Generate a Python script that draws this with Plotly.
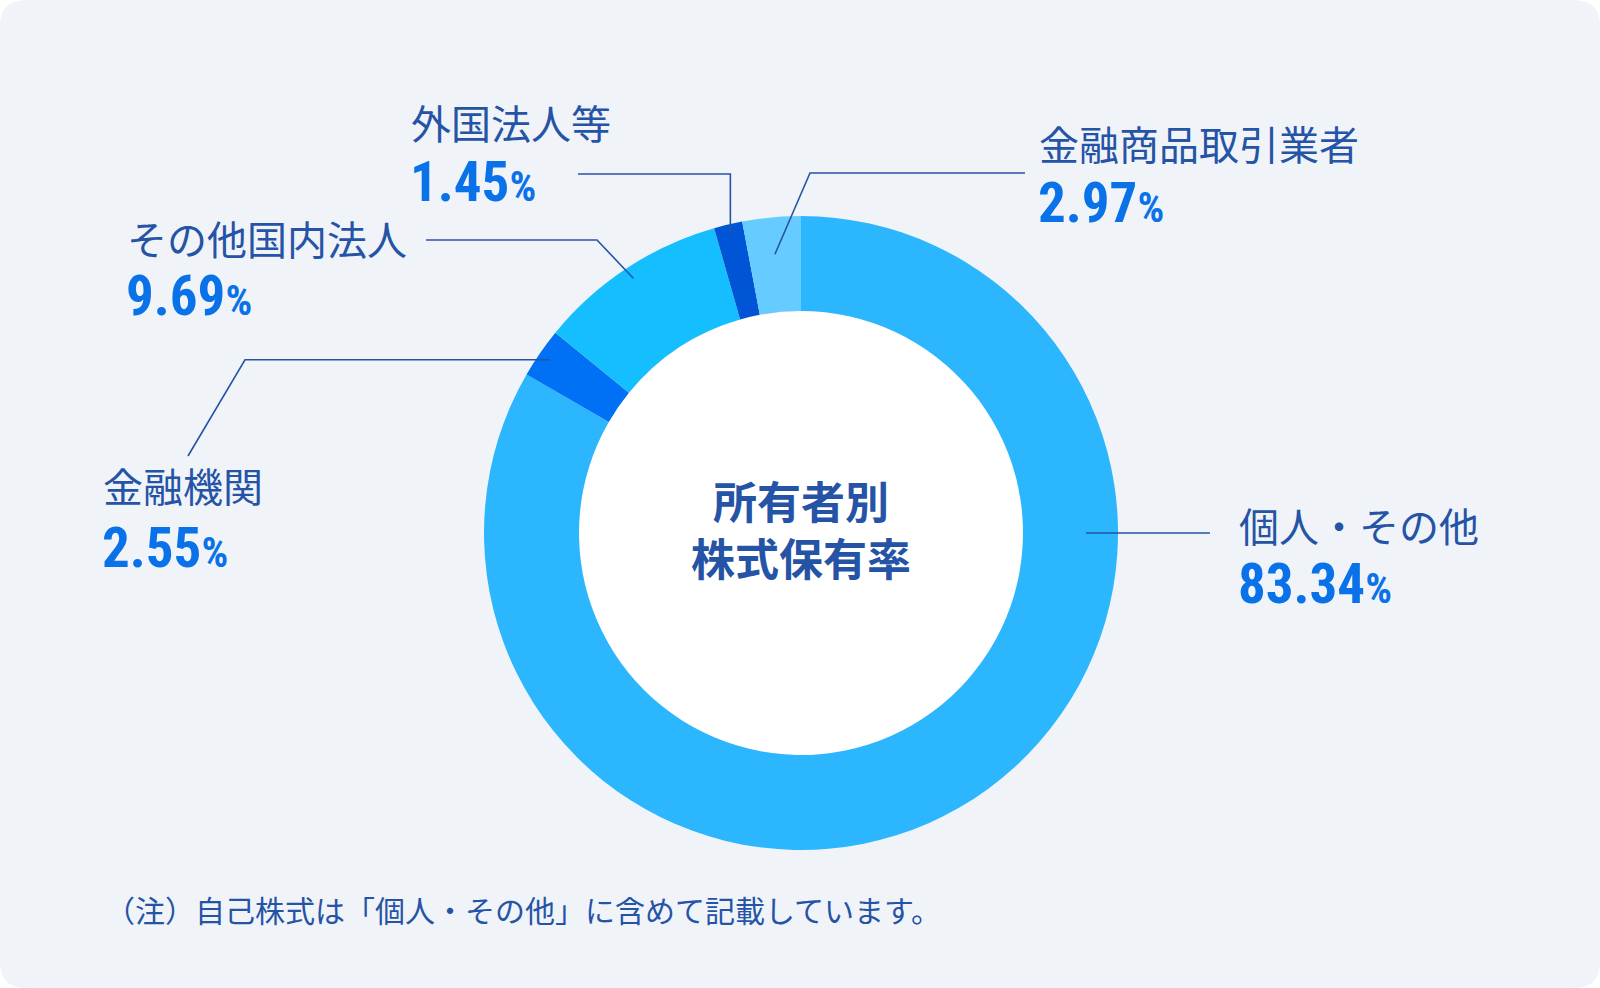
import math
import plotly.graph_objects as go

# ---------------- data ----------------
categories = ["個人・その他", "金融機関", "その他国内法人", "外国法人等", "金融商品取引業者"]
shares = [83.34, 2.55, 9.69, 1.45, 2.97]
center_title = ["所有者別", "株式保有率"]
note = "（注）自己株式は「個人・その他」に含めて記載しています。"

# ---------------- style ----------------
colors = ["#2CB6FE", "#0070F5", "#14BEFF", "#0054D6", "#66CCFF"]
NAVY = "#2553A6"
PCT = "#0A72E8"
BG = "#F0F4F9"
JP = "Noto Sans CJK JP"
NUM = "Roboto Condensed, Liberation Sans Narrow, DejaVu Sans Condensed, DejaVu Sans"

W, H = 1600, 988
CX, CY, R_OUT, R_IN = 801, 533, 317, 222


def px(x):
    return x / W


def py(y):
    return 1 - y / H


# label placement (pixels): text left x, label centre y, percent centre y
label_pos = {
    "個人・その他": (1237, 525, 584),
    "金融機関": (101, 485, 548),
    "その他国内法人": (125, 238, 296),
    "外国法人等": (409, 122, 182),
    "金融商品取引業者": (1037, 143, 203),
}
# leader: (anchor angle override or None, anchor radius, elbow x (None = anchor x),
#          elbow y (None = anchor y), end x, end y (None = previous y))
leaders = {
    "個人・その他": (90, 285, None, "skip", 1210, None),
    "金融機関": (None, 305, 245, None, 188, 456),
    "その他国内法人": (None, 305, 597, 240, 426, 240),
    "外国法人等": (None, 307, None, 174, 578, 174),
    "金融商品取引業者": (None, 280, 810, 173, 1025, 173),
}

fig = go.Figure()
fig.add_trace(go.Pie(
    labels=categories,
    values=shares,
    sort=False,
    direction="clockwise",
    rotation=0,
    hole=R_IN / R_OUT,
    marker=dict(colors=colors, line=dict(width=0)),
    textinfo="none",
    hoverinfo="label+value",
    showlegend=False,
    domain=dict(x=[px(CX - R_OUT), px(CX + R_OUT)], y=[py(CY + R_OUT), py(CY - R_OUT)]),
))

shapes = []
# rounded background card
r = 26
x0, y0, x1, y1 = 0, 0, W, H
pts = [
    ("M", x0 + r, y0), ("L", x1 - r, y0), ("Q", x1, y0, x1, y0 + r),
    ("L", x1, y1 - r), ("Q", x1, y1, x1 - r, y1), ("L", x0 + r, y1),
    ("Q", x0, y1, x0, y1 - r), ("L", x0, y0 + r), ("Q", x0, y0, x0 + r, y0),
]
path = ""
for p in pts:
    cmd = p[0]
    coords = p[1:]
    s = []
    for i in range(0, len(coords), 2):
        s.append(f"{px(coords[i]):.6f},{py(coords[i + 1]):.6f}")
    path += cmd + " ".join(s) + " "
path += "Z"
shapes.append(dict(type="path", path=path, xref="paper", yref="paper",
                   fillcolor=BG, line=dict(width=0), layer="below"))
# white hole
shapes.append(dict(type="circle", xref="paper", yref="paper",
                   x0=px(CX - R_IN), x1=px(CX + R_IN), y0=py(CY + R_IN), y1=py(CY - R_IN),
                   fillcolor="white", line=dict(width=0), layer="below"))

annotations = []
cum = 0.0
total = sum(shares)
for cat, val in zip(categories, shares):
    mid = (cum + val / 2) / total * 360.0
    cum += val
    ang_o, rad, ex, ey, endx, endy = leaders[cat]
    ang = mid if ang_o is None else ang_o
    ax = CX + rad * math.sin(math.radians(ang))
    ay = CY - rad * math.cos(math.radians(ang))
    poly = [(ax, ay)]
    if ey != "skip":
        poly.append((ax if ex is None else ex, ay if ey is None else ey))
    poly.append((endx, poly[-1][1] if endy is None else endy))
    p = "M" + " L".join(f"{px(a):.6f},{py(b):.6f}" for a, b in poly)
    shapes.append(dict(type="path", path=p, xref="paper", yref="paper",
                       line=dict(color=NAVY, width=1.6), layer="above"))

    lx, ly, pcy = label_pos[cat]
    annotations.append(dict(x=px(lx), y=py(ly), xref="paper", yref="paper",
                            text=cat, showarrow=False, xanchor="left", yanchor="middle",
                            font=dict(family=JP, size=40, color=NAVY)))
    annotations.append(dict(x=px(lx - 1), y=py(pcy), xref="paper", yref="paper",
                            text=(f"<span style='font-stretch:condensed'>{val:.2f}"
                                  f"<span style='font-size:42px'>%</span></span>"),
                            showarrow=False, xanchor="left", yanchor="middle",
                            font=dict(family=NUM, size=55, color=PCT, weight=700)))

annotations.append(dict(x=px(CX), y=py(528), xref="paper", yref="paper",
                        text="<br>".join(center_title), showarrow=False,
                        xanchor="center", yanchor="middle", align="center",
                        font=dict(family=JP, size=44, color=NAVY, weight=700)))
annotations.append(dict(x=px(103), y=py(909), xref="paper", yref="paper",
                        text=note, showarrow=False, xanchor="left", yanchor="middle",
                        font=dict(family=JP, size=30, color=NAVY)))

fig.update_layout(
    width=W, height=H,
    margin=dict(l=0, r=0, t=0, b=0),
    paper_bgcolor="white",
    plot_bgcolor="white",
    shapes=shapes,
    annotations=annotations,
    showlegend=False,
)

fig.write_html("out.html", config={"displayModeBar": False})
